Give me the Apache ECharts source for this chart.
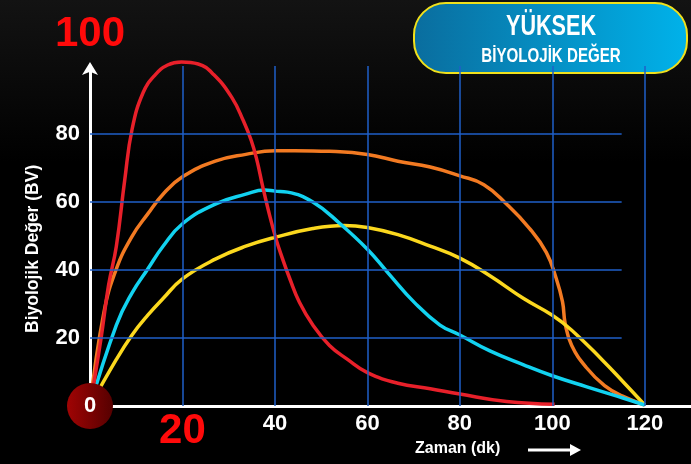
<!DOCTYPE html>
<html>
<head>
<meta charset="utf-8">
<style>
  html, body { margin: 0; padding: 0; background: #000; }
  #chart { width: 691px; height: 464px; }
</style>
<script src="https://cdn.jsdelivr.net/npm/echarts@6/dist/echarts.min.js"></script>
</head>
<body>
<div id="chart"></div>
<script>
// Tick labels
const xTickValues = [20, 40, 60, 80, 100, 120];
const yTickValues = [20, 40, 60, 80];
const xGridValues = [20, 40, 60, 80, 100, 120];
const yGridValues = [20, 40, 60, 80];

// Series values [time (dk), BV]
const redData = [
  [0, 0], [2.4, 20], [4.0, 35.4], [5.7, 47], [7.5, 66.3], [9.1, 81.4],
  [11.5, 92.2], [14.1, 97.4], [16.8, 100.3], [19.8, 101.2], [23.4, 100.6], [26.8, 97.4],
  [30.7, 90.7], [33.2, 83.8], [34.9, 78], [36.1, 72.3], [37.3, 64.9], [38.5, 58],
  [40.2, 49.3], [41.6, 43.5], [43.2, 37.5], [45.3, 30.5], [48.2, 23.8], [51.8, 17.8],
  [55.7, 13.7], [60, 9.8], [66.6, 6.7], [73.6, 5.1], [80, 3.5], [90.1, 1.3], [100.5, 0.5]
];
const orangeData = [
  [0, 0], [3.0, 27.5], [5.7, 40.3], [9.1, 49.9], [12.5, 56.5], [15.8, 62.3],
  [20, 67.4], [27.1, 72], [33.7, 74], [40, 75.1], [44.3, 75.1], [51.8, 74.9], [60, 74],
  [66.6, 72], [73.6, 70.3], [80, 67.7], [85.2, 65.1], [90.1, 59.4], [95.1, 52.2],
  [98.7, 45.2], [100.8, 37.7], [102.2, 30.7], [102.8, 24.1], [104.2, 17.8], [107.3, 11.4],
  [111.3, 6], [115.2, 2.9], [120, 0.3]
];
const cyanData = [
  [0, 0], [5.7, 23.8], [9.1, 33.3], [12.5, 40.3], [15.8, 47], [20, 53.6],
  [27.1, 59.4], [33.7, 62.3], [37.8, 63.5], [40, 63.2], [42.7, 62.9], [48.2, 60],
  [54.1, 53.6], [60, 46.1], [64.5, 39.1], [70.2, 30.4], [75.7, 23.8], [80, 20.9],
  [86.5, 16.2], [93.8, 12.1], [100, 8.9], [107.3, 5.7], [114, 2.9], [120, 0.3]
];
const yellowData = [
  [0, 0], [5.7, 13.7], [9.1, 20.9], [12.5, 26.7], [15.8, 31.6], [20, 37.4],
  [27.1, 43.2], [33.7, 47], [40, 49.6], [48.2, 52.2], [55, 53.1], [60, 52.5], [66.6, 50.4],
  [73.6, 47], [80, 43.5], [86.5, 38.3], [93.8, 31.6], [100, 26.7], [104.2, 22.3],
  [110.7, 13.7], [115.2, 7.3], [120, 0.3]
];
const originPoint = [[0, 0]];

const chart = echarts.init(document.getElementById('chart'), null, { renderer: 'canvas' });

const gridLineData = [];
xGridValues.forEach(v => gridLineData.push([{ coord: [v, 0] }, { coord: [v, 100] }]));
yGridValues.forEach(v => gridLineData.push([{ coord: [0, v] }, { coord: [115, v] }]));

const fontMain = 'Arial, "Liberation Sans", sans-serif';

function lineSeries(name, data, color) {
  return {
    name: name, type: 'line', data: data, smooth: 0.45,
    showSymbol: false, symbol: 'none', clip: false,
    lineStyle: { color: color, width: 3.5 }, z: 3
  };
}

chart.setOption({
  backgroundColor: {
    type: 'linear', x: 0, y: 0, x2: 0, y2: 1,
    colorStops: [{ offset: 0, color: '#131313' }, { offset: 0.35, color: '#000' }, { offset: 1, color: '#000' }]
  },
  animation: false,
  grid: { left: 90, top: 66, width: 601, height: 340 },
  xAxis: {
    type: 'value', min: 0, max: 130,
    axisLine: { show: true, lineStyle: { color: '#fff', width: 3 } },
    axisTick: { show: false },
    splitLine: { show: false },
    axisLabel: {
      customValues: xTickValues,
      margin: 7,
      color: '#fff', fontFamily: fontMain, fontWeight: 'bold', fontSize: 22,
      formatter: function (v) { return v === 20 ? '{big|' + v + '}' : '' + v; },
      rich: {
        big: { color: '#ff0a0a', fontSize: 42, fontWeight: 'bold', fontFamily: fontMain, lineHeight: 42, padding: [-5, 0, 0, 0] }
      }
    }
  },
  yAxis: {
    type: 'value', min: 0, max: 100,
    name: '100', nameLocation: 'end', nameGap: 11,
    nameTextStyle: { color: '#ff0a0a', fontSize: 42, fontWeight: 'bold', fontFamily: fontMain, align: 'center' },
    axisLine: {
      show: true, lineStyle: { color: '#fff', width: 3 },
      symbol: ['none', 'arrow'], symbolSize: [12, 13], symbolOffset: [0, 4]
    },
    axisTick: { show: false },
    splitLine: { show: false },
    axisLabel: {
      customValues: yTickValues, margin: 10,
      color: '#fff', fontFamily: fontMain, fontWeight: 'bold', fontSize: 22
    }
  },
  series: [
    {
      name: 'grid', type: 'line', data: [], symbol: 'none', z: 1,
      markLine: {
        silent: true, symbol: ['none', 'none'], animation: false,
        label: { show: false },
        lineStyle: { color: '#1f5fc8', width: 1.5, type: 'solid' },
        emphasis: { disabled: true },
        data: gridLineData
      }
    },
    lineSeries('Turuncu', orangeData, '#f27a22'),
    lineSeries('Sarı', yellowData, '#fbd81e'),
    lineSeries('Mavi', cyanData, '#12d2f0'),
    lineSeries('Kırmızı', redData, '#e8202a'),
    {
      name: 'origin', type: 'scatter', data: originPoint, symbolSize: 46, z: 10,
      itemStyle: {
        opacity: 1,
        color: { type: 'linear', x: 0, y: 0, x2: 1, y2: 0,
          colorStops: [{ offset: 0, color: '#a00404' }, { offset: 1, color: '#560000' }] }
      },
      label: { show: true, position: 'inside', formatter: '0', color: '#fff',
        fontFamily: fontMain, fontWeight: 'bold', fontSize: 22 },
      emphasis: { disabled: true }
    }
  ],
  graphic: [
    {
      type: 'text', x: 24, y: 333, rotation: Math.PI / 2,
      style: { text: 'Biyolojik Değer (BV)', fill: '#fff', font: 'bold 17.5px ' + fontMain, textAlign: 'left', textVerticalAlign: 'top' }
    },
    {
      type: 'text', x: 415, y: 441,
      style: { text: 'Zaman (dk)', fill: '#fff', font: 'bold 16px ' + fontMain }
    },
    {
      type: 'line', shape: { x1: 528, y1: 450, x2: 572, y2: 450 },
      style: { stroke: '#fff', lineWidth: 3 }
    },
    {
      type: 'polygon', shape: { points: [[570, 444], [581, 450], [570, 456]] },
      style: { fill: '#fff' }
    },
    {
      type: 'rect', shape: { x: 414, y: 3, width: 273, height: 70, r: 32 },
      style: {
        fill: { type: 'linear', x: 0, y: 0, x2: 1, y2: 0,
          colorStops: [{ offset: 0, color: '#0a6d9e' }, { offset: 1, color: '#00b2ea' }] },
        stroke: '#f0e01c', lineWidth: 2
      }
    },
    {
      type: 'text', x: 551, y: 27, scaleX: 0.72,
      style: { text: 'YÜKSEK', fill: '#fff', font: 'bold 30px ' + fontMain, textAlign: 'center', textVerticalAlign: 'middle' }
    },
    {
      type: 'text', x: 551, y: 56, scaleX: 0.72,
      style: { text: 'BİYOLOJİK DEĞER', fill: '#fff', font: 'bold 21px ' + fontMain, textAlign: 'center', textVerticalAlign: 'middle' }
    }
  ]
});
</script>
</body>
</html>
